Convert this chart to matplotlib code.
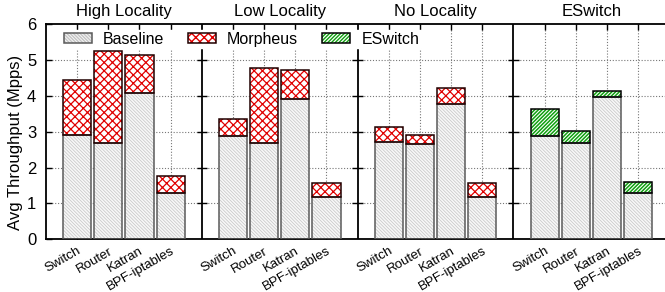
import numpy as np
import matplotlib
matplotlib.use("Agg")
import matplotlib.pyplot as plt
from matplotlib.patches import Patch

plt.rcParams["font.family"] = ["Liberation Sans", "DejaVu Sans"]

apps = ["Switch", "Router", "Katran", "BPF-iptables"]
scenarios = ["High Locality", "Low Locality", "No Locality", "ESwitch"]

# throughput in Mpps, one row per scenario, one column per app
baseline = [
    [2.90, 2.69, 4.09, 1.28],
    [2.88, 2.69, 3.90, 1.19],
    [2.72, 2.65, 3.77, 1.17],
    [2.89, 2.69, 3.96, 1.28],
]
morpheus = [
    [4.43, 5.25, 5.15, 1.77],
    [3.35, 4.78, 4.72, 1.58],
    [3.12, 2.91, 4.22, 1.56],
    [None, None, None, None],
]
eswitch = [
    [None, None, None, None],
    [None, None, None, None],
    [None, None, None, None],
    [3.62, 3.03, 4.12, 1.60],
]

fig = plt.figure(figsize=(6.65, 2.92), dpi=100)
ax = fig.add_axes([46 / 665, 52.7 / 292, 623.3 / 665, 215.3 / 292])

W = 0.9
base_face = "#f7f7f7"
base_hatch = "#c4c4c4"
base_edge = "#5a5a5a"
red = "#e00000"
green = "#10a010"
H_BASE = "\\" * 10
H_MORPH = "xxxx"
H_ESW = "/" * 9


def hatched_bar(x, h, b, face, hcol, hatch, edge, lw, hlw):
    with plt.rc_context({"hatch.linewidth": hlw}):
        ax.bar(x, h, W, bottom=b, color=face, edgecolor=hcol, hatch=hatch,
               linewidth=0, zorder=2)
    ax.bar(x, h, W, bottom=b, fill=False, edgecolor=edge, linewidth=lw, zorder=3)


xt = []
for g in range(4):
    for i in range(4):
        x = g * 5 + i + 1
        xt.append(x)
        b = baseline[g][i]
        hatched_bar(x, b, 0, base_face, base_hatch, H_BASE, base_edge, 1.1, 0.5)
        if morpheus[g][i] is not None:
            hatched_bar(x, morpheus[g][i] - b, b, "white", red, H_MORPH, "#200000", 1.1, 0.9)
        if eswitch[g][i] is not None:
            hatched_bar(x, eswitch[g][i] - b, b, "white", green, H_ESW, "#000000", 1.1, 1.1)

ax.set_xlim(0, 20)
ax.set_ylim(0, 6)
ax.set_yticks(range(7))
ax.set_xticks(xt)
ax.set_xticklabels(apps * 4, rotation=30, ha="right", rotation_mode="anchor",
                   fontsize=9.5)
ax.tick_params(axis="x", direction="in", length=4, top=True, pad=4, width=1)
ax.tick_params(axis="y", direction="in", length=4, labelsize=12, pad=7, width=1)

for y in range(1, 6):
    ax.axhline(y, color="#777777", lw=0.8, ls=(0, (1, 1.6)), zorder=0)
for x in xt:
    ax.axvline(x, color="#777777", lw=0.8, ls=(0, (1, 1.6)), zorder=0)

for s in [5, 10, 15]:
    ax.axvline(s, color="black", lw=1.3, zorder=4)
    ax.hlines(range(1, 6), s - 0.17, s + 0.17, color="black", lw=1.0, zorder=4)

for sp in ax.spines.values():
    sp.set_linewidth(1.3)

for g, name in enumerate(scenarios):
    ax.text(g * 5 + 2.5, 1.056, name, transform=ax.get_xaxis_transform(),
            ha="center", va="center", fontsize=12)

ax.set_ylabel("Avg Throughput (Mpps)", fontsize=12)
ax.yaxis.set_label_coords(-0.037, 0.45)


def legend_handle(face, hcol, hatch, edge, hlw):
    with plt.rc_context({"hatch.linewidth": hlw}):
        fillp = Patch(facecolor=face, edgecolor=hcol, hatch=hatch, linewidth=0)
    return (fillp, Patch(fill=False, edgecolor=edge, linewidth=1.1))


handles = [
    legend_handle(base_face, base_hatch, H_BASE, base_edge, 0.5),
    legend_handle("white", red, H_MORPH, "#200000", 0.9),
    legend_handle("white", green, H_ESW, "#000000", 1.1),
]
leg = ax.legend(handles, ["Baseline", "Morpheus", "ESwitch"], loc="center left",
                bbox_to_anchor=(0.0257, 0.93),
                ncol=3, frameon=True, framealpha=1, edgecolor="white",
                fontsize=11.5, handlelength=1.75, handleheight=0.6,
                handletextpad=0.7, columnspacing=1.5, borderpad=0.1,
                borderaxespad=0, fancybox=False)
leg.set_zorder(5)

fig.savefig("out.png", dpi=100)
